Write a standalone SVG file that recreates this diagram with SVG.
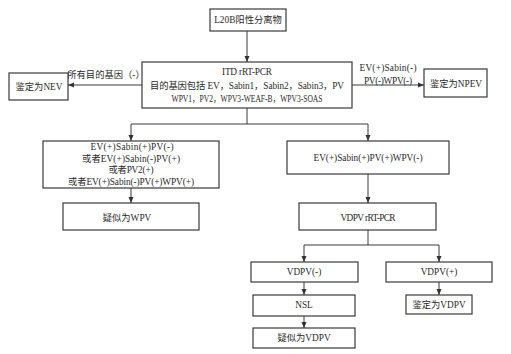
<svg xmlns="http://www.w3.org/2000/svg" width="511" height="354" viewBox="0 0 511 354">
<defs>
<style>
.box{fill:#fff;stroke:#3a3a3a;stroke-width:1.2}
.ln{fill:none;stroke:#3a3a3a;stroke-width:1}
text{font-family:"Liberation Serif","Noto Sans CJK SC",serif;font-size:9.3px;fill:#2a2a2a;text-anchor:middle;dominant-baseline:central}
</style>
<marker id="ah" viewBox="0 0 6 6" refX="6" refY="3" markerWidth="6" markerHeight="6" markerUnits="userSpaceOnUse" orient="auto">
<path d="M0,0.5 L6,3 L0,5.5 Z" fill="#333"/>
</marker>
</defs>
<rect width="511" height="354" fill="#fff"/>
<g id="connectors">
<line class="ln" x1="247" y1="31" x2="247" y2="62" marker-end="url(#ah)"/>
<line class="ln" x1="142" y1="85" x2="68" y2="85" marker-end="url(#ah)"/>
<line class="ln" x1="352" y1="85" x2="424" y2="85" marker-end="url(#ah)"/>
<polyline class="ln" points="247,108 247,124 131,124 131,141" marker-end="url(#ah)"/>
<polyline class="ln" points="247,124 368,124 368,141" marker-end="url(#ah)"/>
<line class="ln" x1="131" y1="188" x2="131" y2="203" marker-end="url(#ah)"/>
<line class="ln" x1="368" y1="174" x2="368" y2="203" marker-end="url(#ah)"/>
<polyline class="ln" points="368,230 368,245 304,245 304,262" marker-end="url(#ah)"/>
<polyline class="ln" points="368,245 439,245 439,262" marker-end="url(#ah)"/>
<line class="ln" x1="304" y1="282" x2="304" y2="295" marker-end="url(#ah)"/>
<line class="ln" x1="304" y1="316" x2="304" y2="328" marker-end="url(#ah)"/>
<line class="ln" x1="439" y1="282" x2="439" y2="295" marker-end="url(#ah)"/>
<text x="106" y="75">所有目的基因（-）</text>
<text x="388" y="68" textLength="57" lengthAdjust="spacing">EV(+)Sabin(-)</text>
<text x="388" y="81" textLength="48" lengthAdjust="spacing">PV(-)WPV(-)</text>
</g>
<g id="n-l20b">
<rect class="box" x="210" y="9" width="76" height="22"/>
<text x="248" y="20">L20B阳性分离物</text>
</g>
<g id="n-itd">
<rect class="box" x="142" y="62" width="210" height="46"/>
<text x="247" y="72" textLength="50" lengthAdjust="spacing">ITD rRT-PCR</text>
<text x="247" y="86" textLength="194" lengthAdjust="spacing">目的基因包括 EV，Sabin1，Sabin2，Sabin3，PV</text>
<text x="247" y="99" textLength="151" lengthAdjust="spacingAndGlyphs">WPV1，PV2，WPV3-WEAF-B，WPV3-SOAS</text>
</g>
<g id="n-nev">
<rect class="box" x="9" y="73" width="59" height="27"/>
<text x="39" y="87">鉴定为NEV</text>
</g>
<g id="n-npev">
<rect class="box" x="424" y="69" width="63" height="28"/>
<text x="456" y="84">鉴定为NPEV</text>
</g>
<g id="n-left">
<rect class="box" x="43" y="141" width="176" height="47"/>
<text x="132" y="147" textLength="83" lengthAdjust="spacing">EV(+)Sabin(+)PV(-)</text>
<text x="131" y="159" textLength="98" lengthAdjust="spacing">或者EV(+)Sabin(-)PV(+)</text>
<text x="131" y="170" textLength="45" lengthAdjust="spacing">或者PV2(+)</text>
<text x="131" y="182" textLength="126" lengthAdjust="spacing">或者EV(+)Sabin(-)PV(+)WPV(+)</text>
</g>
<g id="n-wpv">
<rect class="box" x="63" y="203" width="136" height="27"/>
<text x="127" y="218">疑似为WPV</text>
</g>
<g id="n-right">
<rect class="box" x="287" y="141" width="162" height="33"/>
<text x="368" y="158" textLength="109" lengthAdjust="spacing">EV(+)Sabin(+)PV(+)WPV(-)</text>
</g>
<g id="n-vdpvpcr">
<rect class="box" x="299" y="203" width="137" height="27"/>
<text x="368" y="218" textLength="55" lengthAdjust="spacing">VDPV rRT-PCR</text>
</g>
<g id="n-vdpvneg">
<rect class="box" x="251" y="262" width="107" height="20"/>
<text x="304" y="272">VDPV(-)</text>
</g>
<g id="n-vdpvpos">
<rect class="box" x="386" y="262" width="106" height="20"/>
<text x="439" y="272">VDPV(+)</text>
</g>
<g id="n-nsl">
<rect class="box" x="253" y="295" width="102" height="21"/>
<text x="304" y="305">NSL</text>
</g>
<g id="n-susvdpv">
<rect class="box" x="253" y="328" width="102" height="20"/>
<text x="304" y="338">疑似为VDPV</text>
</g>
<g id="n-idvdpv">
<rect class="box" x="406" y="295" width="66" height="19"/>
<text x="439" y="305">鉴定为VDPV</text>
</g>
</svg>
